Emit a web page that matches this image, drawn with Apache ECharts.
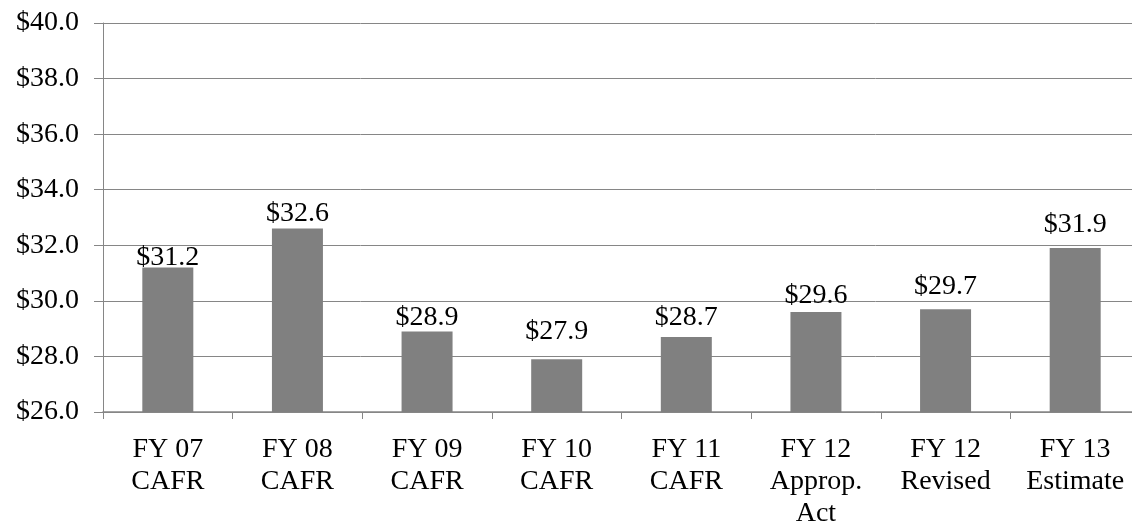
<!DOCTYPE html>
<html>
<head>
<meta charset="utf-8">
<script src="https://cdn.jsdelivr.net/npm/echarts@6/dist/echarts.min.js"></script>
<style>
  html, body { margin: 0; padding: 0; background: #fff; }
  #chart { width: 1132px; height: 529px; }
</style>
</head>
<body>
<div id="chart"></div>
<script>
const categories = ["FY 07\nCAFR", "FY 08\nCAFR", "FY 09\nCAFR", "FY 10\nCAFR", "FY 11\nCAFR", "FY 12\nApprop.\nAct", "FY 12\nRevised", "FY 13\nEstimate"];
const values = [31.2, 32.6, 28.9, 27.9, 28.7, 29.6, 29.7, 31.9];
const yMin = 26, yMax = 40, yStep = 2;
// the labels in the original were nudged by hand, so each sits a bit differently above its bar
const labelGap = [-4, 1, 0, 14, 5, 2, 9, 9];

const font = '"Liberation Serif", "DejaVu Serif", serif';
const lineColor = "#868686";

let chart = echarts.init(document.getElementById("chart"));
let option = {
  animation: false,
  textStyle: { fontFamily: font },
  grid: {
    left: 103, top: 23, width: 1037, height: 389,
    containLabel: false, outerBoundsMode: "none"
  },
  xAxis: {
    type: "category",
    data: categories,
    axisLine: { lineStyle: { color: lineColor, width: 1.5 } },
    axisTick: { show: true, length: 7, lineStyle: { color: lineColor } },
    axisLabel: {
      fontFamily: font, fontSize: 28, color: "#000",
      margin: 22, lineHeight: 32, interval: 0
    }
  },
  yAxis: {
    type: "value",
    min: yMin, max: yMax, interval: yStep,
    axisLine: { show: true, lineStyle: { color: lineColor, width: 1 } },
    axisTick: { show: true, length: 9, lineStyle: { color: lineColor } },
    splitLine: { show: true, lineStyle: { color: lineColor, width: 1 } },
    axisLabel: {
      fontFamily: font, fontSize: 28, color: "#000", margin: 24,
      formatter: v => "$" + v.toFixed(1)
    }
  },
  series: [{
    type: "bar",
    data: values.map((v, i) => ({ value: v, label: { distance: labelGap[i] } })),
    barWidth: 51,
    itemStyle: { color: "#808080" },
    label: {
      show: true, position: "top",
      fontFamily: font, fontSize: 28, color: "#000",
      formatter: p => "$" + p.value.toFixed(1)
    }
  }]
};
chart.setOption(option);
</script>
</body>
</html>
